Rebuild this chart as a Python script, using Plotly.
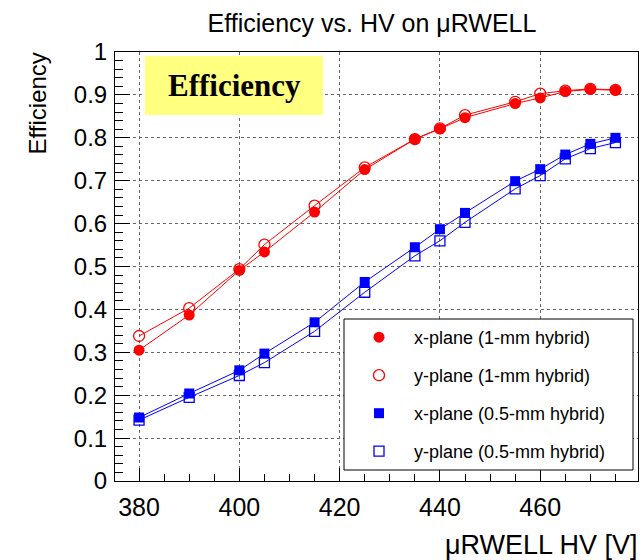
import plotly.graph_objects as go

# ---- data ----
hv = [380, 390, 400, 405, 415, 425, 435, 440, 445, 455, 460, 465, 470, 475]
eff_x_1mm = [0.305, 0.387, 0.491, 0.534, 0.627, 0.726, 0.797, 0.821, 0.847, 0.880, 0.893, 0.908, 0.913, 0.911]
eff_y_1mm = [0.338, 0.403, 0.494, 0.551, 0.642, 0.731, 0.797, 0.822, 0.853, 0.884, 0.903, 0.910, 0.914, 0.912]
eff_x_05mm = [0.148, 0.204, 0.258, 0.297, 0.370, 0.464, 0.545, 0.587, 0.625, 0.699, 0.727, 0.761, 0.786, 0.800]
eff_y_05mm = [0.142, 0.195, 0.246, 0.276, 0.349, 0.440, 0.525, 0.560, 0.603, 0.681, 0.712, 0.751, 0.775, 0.789]
series_names = ["x-plane (1-mm hybrid)", "y-plane (1-mm hybrid)",
                "x-plane (0.5-mm hybrid)", "y-plane (0.5-mm hybrid)"]

RED = "#ff0000"
BLUE = "#0000ff"
FONT = "Liberation Sans, Arial, sans-serif"
PAD = "\u00a0\u00a0\u00a0"

fig = go.Figure()

styles = {
    0: (eff_x_1mm, RED, "circle", 11, True),
    1: (eff_y_1mm, RED, "circle-open", 11, False),
    2: (eff_x_05mm, BLUE, "square", 10, True),
    3: (eff_y_05mm, BLUE, "square-open", 10, False),
}

def marker(color, symbol, size, filled):
    return dict(symbol=symbol, size=size, color=color,
                line=dict(color=color, width=0 if filled else 1.3))

# legend entries (marker only, as in the reference) — added first for ordering
for i in [0, 1, 2, 3]:
    y, color, symbol, size, filled = styles[i]
    fig.add_trace(go.Scatter(
        x=[None], y=[None], name=PAD + series_names[i], mode="markers",
        marker=marker(color, symbol, size, filled),
        showlegend=True, legendgroup="g%d" % i,
    ))

# data traces: open markers first so filled ones are drawn on top
for i in [1, 3, 0, 2]:
    y, color, symbol, size, filled = styles[i]
    fig.add_trace(go.Scatter(
        x=hv, y=y, name=series_names[i], mode="lines+markers",
        line=dict(color=color, width=1),
        marker=marker(color, symbol, size, filled),
        showlegend=False,
    ))

W, H = 644, 560
L, R, T, B = 115, 6, 52, 79
pw, ph = W - L - R, H - T - B

def px_x(p):
    return (p - L) / pw

def px_y(p):
    return (H - B - p) / ph

fig.update_layout(
    width=W, height=H,
    margin=dict(l=L, r=R, t=T, b=B),
    paper_bgcolor="white", plot_bgcolor="white",
    font=dict(family=FONT, color="black"),
    title=dict(text="Efficiency vs. HV on \u03bcRWELL", x=372 / W, xanchor="center",
               y=1 - 23 / H, yanchor="middle", font=dict(size=25, family=FONT)),
    showlegend=True,
    legend=dict(x=px_x(359), y=px_y(319), xanchor="left", yanchor="top",
                bgcolor="rgba(0,0,0,0)", borderwidth=0,
                font=dict(size=18, family=FONT),
                tracegroupgap=11.6, traceorder="grouped"),
    xaxis=dict(range=[375.2, 479.5], tick0=380, dtick=20,
               showline=True, linecolor="black", linewidth=1, mirror=True,
               ticks="inside", ticklen=13, tickcolor="black",
               minor=dict(dtick=5, ticks="inside", ticklen=7, tickcolor="black", showgrid=False),
               showgrid=True, gridcolor="#666", griddash="dot", gridwidth=1,
               zeroline=False, tickfont=dict(size=25, family=FONT),
               ticklabelstandoff=4),
    yaxis=dict(range=[0, 1.0001], tick0=0, dtick=0.1,
               showline=True, linecolor="black", linewidth=1, mirror=True,
               ticks="inside", ticklen=15, tickcolor="black",
               minor=dict(dtick=0.02, ticks="inside", ticklen=8, tickcolor="black", showgrid=False),
               showgrid=True, gridcolor="#666", griddash="dot", gridwidth=1,
               zeroline=False, tickfont=dict(size=24, family=FONT),
               ticklabelstandoff=2),
    shapes=[
        dict(type="rect", xref="paper", yref="paper", layer="above",
             x0=px_x(145), x1=px_x(323), y0=px_y(115), y1=px_y(56),
             fillcolor="#ffff80", line=dict(width=0)),
        dict(type="rect", xref="paper", yref="paper", layer="above",
             x0=px_x(344), x1=px_x(633), y0=px_y(470), y1=px_y(319),
             fillcolor="white", line=dict(color="black", width=1)),
    ],
    annotations=[
        dict(text="<b>Efficiency</b>", xref="paper", yref="paper",
             x=px_x(234), y=px_y(85.5), xanchor="center", yanchor="middle",
             showarrow=False, font=dict(size=31, family="Liberation Serif, Times New Roman, serif", color="black")),
        dict(text="Efficiency", xref="paper", yref="paper", textangle=-90,
             x=px_x(37), y=px_y(103.4), xanchor="center", yanchor="middle",
             showarrow=False, font=dict(size=24, family=FONT)),
        dict(text="\u03bcRWELL HV [V]", xref="paper", yref="paper",
             x=px_x(640), y=px_y(545), xanchor="right", yanchor="middle",
             showarrow=False, font=dict(size=27, family=FONT)),
    ],
)

fig.write_html("out.html")
